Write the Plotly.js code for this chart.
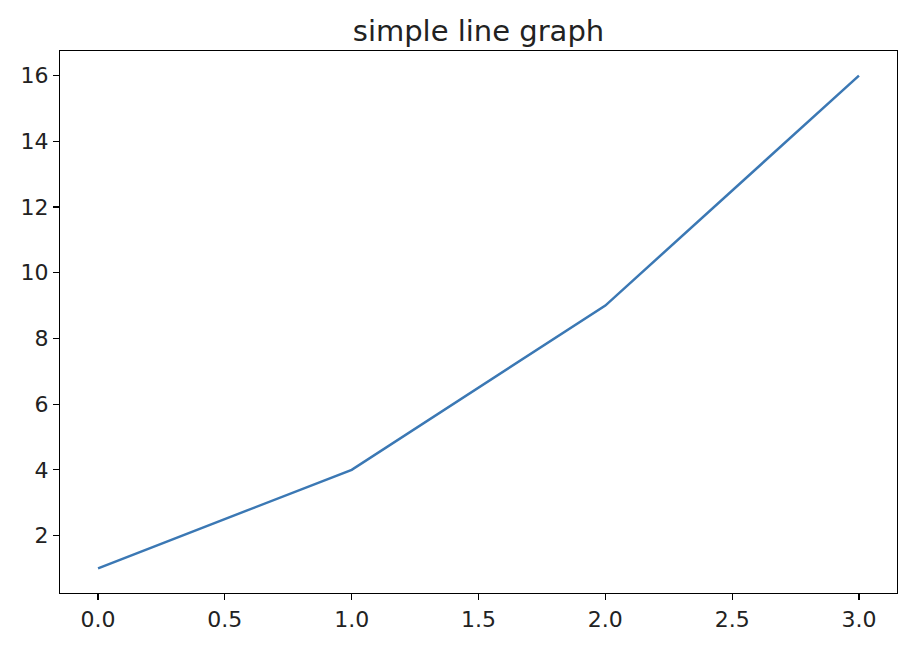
<!DOCTYPE html>
<html>
<head>
<meta charset="utf-8">
<script src="https://cdn.plot.ly/plotly-3.0.1.min.js"></script>
<style>html,body{margin:0;padding:0;background:#fff;}#chart{width:912px;height:650px;}</style>
</head>
<body>
<div id="chart"></div>
<script>
const xValues = [0, 1, 2, 3];
const yValues = [1, 4, 9, 16];
const xTicks = [0, 0.5, 1, 1.5, 2, 2.5, 3];
const xTickLabels = ["0.0", "0.5", "1.0", "1.5", "2.0", "2.5", "3.0"];
const yTicks = [2, 4, 6, 8, 10, 12, 14, 16];
const titleText = "simple line graph";

const font = "DejaVu Sans, sans-serif";
Plotly.newPlot("chart", [{
  x: xValues, y: yValues, type: "scatter", mode: "lines",
  line: {color: "#3b78b4", width: 2.5}, hoverinfo: "skip"
}], {
  width: 912, height: 650,
  paper_bgcolor: "#fff", plot_bgcolor: "#fff",
  margin: {l: 60, r: 15, t: 51, b: 57},
  title: {text: titleText, font: {family: font, size: 29, color: "#222"}, x: 0.5, xanchor: "center", xref: "paper", y: 1, yref: "paper", yanchor: "bottom", pad: {b: 10}},
  showlegend: false,
  xaxis: {
    range: [-0.15, 3.15], tickvals: xTicks, ticktext: xTickLabels,
    showgrid: false, zeroline: false, showline: true, linecolor: "#000", linewidth: 1.2, mirror: true,
    ticks: "outside", ticklen: 6, tickwidth: 1.2, tickcolor: "#000",
    tickfont: {family: font, size: 22, color: "#222"}
  },
  yaxis: {
    range: [0.25, 16.75], tickvals: yTicks,
    showgrid: false, zeroline: false, showline: true, linecolor: "#000", linewidth: 1.2, mirror: true,
    ticks: "outside", ticklen: 6, tickwidth: 1.2, tickcolor: "#000",
    tickfont: {family: font, size: 22, color: "#222"}
  }
}, {staticPlot: true, displayModeBar: false});
</script>
</body>
</html>
